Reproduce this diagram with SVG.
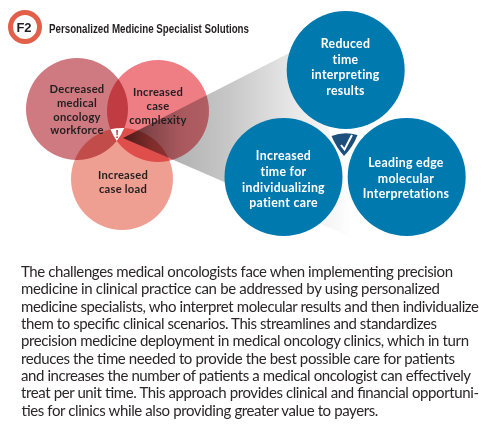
<svg xmlns="http://www.w3.org/2000/svg" width="500" height="424" viewBox="0 0 500 424">
<style>
.v{mix-blend-mode:multiply}
.lab{font-family:"Lato","Open Sans",sans-serif;font-size:11.2px;font-weight:700;fill:#231f20;text-anchor:middle;letter-spacing:.25px}
.wl{font-family:"Lato","Open Sans",sans-serif;font-size:12.3px;font-weight:700;fill:#fff;text-anchor:middle;letter-spacing:.3px}
.body{font-family:"Lato","Open Sans",sans-serif;font-size:15px;fill:#2b2728}
.blue{fill:#0079ae}
</style>
<defs>
<linearGradient id="g" gradientUnits="userSpaceOnUse" x1="123" y1="0" x2="352" y2="0">
<stop offset="0" stop-color="#555"/><stop offset=".12" stop-color="#8f8f8f"/><stop offset=".25" stop-color="#b4b4b4"/><stop offset=".47" stop-color="#c8c8c8"/><stop offset=".73" stop-color="#e6e6e6"/><stop offset="1" stop-color="#fff"/>
</linearGradient>
<clipPath id="c1"><circle cx="77" cy="109" r="51"/></clipPath>
<clipPath id="c2" clip-path="url(#c1)"><circle cx="158" cy="111" r="51"/></clipPath>
<clipPath id="c3" clip-path="url(#c2)"><circle cx="122" cy="179" r="51"/></clipPath>
</defs>
<rect width="500" height="424" fill="#fff"/>
<g id="badge">
<circle cx="25" cy="27" r="14.5" fill="#fff" stroke="#e2604a" stroke-width="5"/>
<text x="24" y="32" font-family="Liberation Sans,sans-serif" font-size="13" font-weight="700" fill="#231f20" text-anchor="middle">F2</text>
</g>
<text id="title" x="49" y="33" font-family="Liberation Sans,sans-serif" font-size="13.5" font-weight="700" fill="#231f20" textLength="200" lengthAdjust="spacingAndGlyphs">Personalized Medicine Specialist Solutions</text>
<g id="venn" style="isolation:isolate">
<g id="workforce"><circle class="v" cx="77" cy="109" r="51" fill="#cf7a80"/></g>
<g id="complexity"><circle class="v" cx="158" cy="111" r="51" fill="#ee7d84"/></g>
<g id="load"><circle class="v" cx="122" cy="179" r="51" fill="#ef9f91"/></g>
<g id="connectors"><polygon class="v" points="123,138 305,45 360,241" fill="url(#g)"/></g>
</g>
<g id="alert">
<rect x="100" y="120" width="40" height="30" fill="#fff" clip-path="url(#c3)"/>
<text x="117" y="138" font-family="Liberation Sans,sans-serif" font-size="11" font-weight="700" fill="#c8323a" text-anchor="middle">!</text>
</g>
<text class="lab"><tspan x="77" y="93">Decreased</tspan><tspan x="77" y="107">medical</tspan><tspan x="77" y="121">oncology</tspan><tspan x="77" y="134">workforce</tspan></text>
<text class="lab"><tspan x="158" y="96">Increased</tspan><tspan x="158" y="110">case</tspan><tspan x="158" y="124">complexity</tspan></text>
<text class="lab"><tspan x="123" y="179">Increased</tspan><tspan x="123" y="193">case load</tspan></text>
<g id="reduced"><circle class="blue" cx="345.7" cy="70" r="59"/>
<text class="wl"><tspan x="345.5" y="48">Reduced</tspan><tspan x="345.5" y="64">time</tspan><tspan x="345.5" y="79">interpreting</tspan><tspan x="345.5" y="95">results</tspan></text></g>
<g id="time"><circle class="blue" cx="283.5" cy="177" r="59"/>
<text class="wl"><tspan x="283.5" y="160">Increased</tspan><tspan x="283.5" y="176">time for</tspan><tspan x="283.5" y="192">individualizing</tspan><tspan x="283.5" y="207">patient care</tspan></text></g>
<g id="leading"><circle class="blue" cx="406.7" cy="177" r="59"/>
<text class="wl"><tspan x="406" y="167">Leading edge</tspan><tspan x="406" y="183">molecular</tspan><tspan x="406" y="198">Interpretations</tspan></text></g>
<g id="check">
<path d="M331.5 136Q344 131 357.5 135Q353 147 344 156Q336 147 331.5 136Z" fill="#1d4f7c"/>
<path d="M341 145L344.5 149.5L352 135" fill="none" stroke="#fff" stroke-width="2"/>
</g>
<g id="caption" class="body">
<text x="21" y="277" textLength="432">The challenges medical oncologists face when implementing precision</text>
<text x="21" y="294" textLength="419">medicine in clinical practice can be addressed by using personalized</text>
<text x="21" y="312" textLength="458">medicine specialists, who interpret molecular results and then individualize</text>
<text x="21" y="329" textLength="416">them to specific clinical scenarios. This streamlines and standardizes</text>
<text x="21" y="346" textLength="448">precision medicine deployment in medical oncology clinics, which in turn</text>
<text x="21" y="364" textLength="434">reduces the time needed to provide the best possible care for patients</text>
<text x="21" y="381" textLength="450">and increases the number of patients a medical oncologist can effectively</text>
<text x="21" y="398" textLength="458">treat per unit time. This approach provides clinical and financial opportuni-</text>
<text x="21" y="416" textLength="357">ties for clinics while also providing greater value to payers.</text>
</g>
</svg>
